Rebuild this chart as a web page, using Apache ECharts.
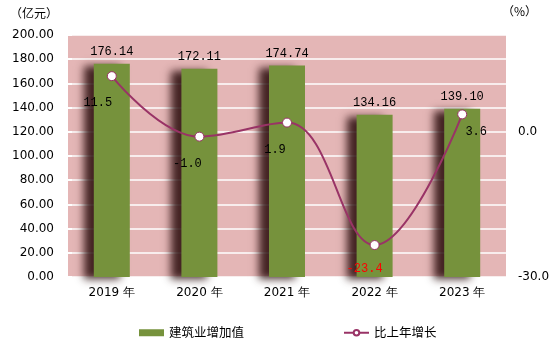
<!DOCTYPE html>
<html><head><meta charset="utf-8">
<script src="https://cdn.jsdelivr.net/npm/echarts@6/dist/echarts.min.js"></script>
<style>html,body{margin:0;padding:0;background:#fff}#c{width:556px;height:362px}</style>
</head><body><div id="c"></div>
<script>
var categories = ['2019 年', '2020 年', '2021 年', '2022 年', '2023 年'];
var valueAdded = [176.14, 172.11, 174.74, 134.16, 139.10];
var growth = [11.5, -1.0, 1.9, -23.4, 3.6];
var leftTicks = [0, 200, 20];
var rightTicks = [-30, 20, 10];

var lineLabelOffsets = [[-14, 8], [-12, 8], [-12, 8], [-10, 5], [14, -2]];
var lineLabelColors = ['#000', '#000', '#000', '#f00', '#000'];

var chart = echarts.init(document.getElementById('c'));
var font = '"DejaVu Sans", sans-serif';
var mono = '"Liberation Mono", monospace';
var cjk = '"Noto Sans CJK SC", sans-serif';
chart.setOption({
  animation: false,
  grid: { left: 68, right: 50, top: 35, bottom: 85, show: true, backgroundColor: '#E4B6B6', borderWidth: 0 },
  legend: {
    bottom: 18, left: 134, itemGap: 99, itemWidth: 25, itemHeight: 7,
    textStyle: { fontSize: 12.5, color: '#000', fontFamily: cjk },
    data: [
      { name: '建筑业增加值', icon: 'rect', itemStyle: { shadowBlur: 0, shadowOffsetX: 0, shadowColor: 'transparent' } },
      { name: '比上年增长' }
    ]
  },
  xAxis: {
    type: 'category', data: categories,
    axisLine: { show: false }, axisTick: { show: false },
    axisLabel: { color: '#000', fontSize: 12, margin: 10, fontFamily: font }
  },
  yAxis: [
    {
      type: 'value', min: leftTicks[0], max: leftTicks[1], interval: leftTicks[2],
      name: '（亿元）', nameLocation: 'end', nameGap: 16,
      nameTextStyle: { color: '#000', fontSize: 12, align: 'right', padding: [0, 10, 0, 0], fontFamily: cjk },
      axisLine: { show: false },
      axisTick: { show: true, inside: true, length: 4, lineStyle: { color: '#fff', width: 2 } },
      axisLabel: { color: '#000', fontSize: 12, margin: 14, fontFamily: font, formatter: function (v) { return v.toFixed(2); } },
      splitLine: { lineStyle: { color: '#fff', width: 1.5 } }
    },
    {
      type: 'value', min: rightTicks[0], max: rightTicks[1], interval: rightTicks[2],
      name: '（%）', nameLocation: 'end', nameGap: 18,
      nameTextStyle: { color: '#000', fontSize: 12, align: 'left', padding: [0, 0, 0, -4], fontFamily: cjk },
      axisLine: { show: false }, axisTick: { show: false },
      splitLine: { show: false },
      axisLabel: { color: '#000', fontSize: 12, margin: 12, fontFamily: font,
        formatter: function (v) { return (v === 0 || v === -30) ? v.toFixed(1) : ''; } }
    }
  ],
  series: [
    {
      name: '建筑业增加值', type: 'bar', data: valueAdded, barWidth: 36, yAxisIndex: 0,
      itemStyle: { color: '#76923C', shadowColor: 'rgba(40,10,10,0.85)', shadowBlur: 8, shadowOffsetX: -10, shadowOffsetY: 2 },
      label: { show: true, position: 'top', distance: 6, color: '#000', fontSize: 12, fontFamily: mono,
        formatter: function (p) { return p.value.toFixed(2); } }
    },
    {
      name: '比上年增长', type: 'line', data: growth.map(function (v, i) {
        return { value: v, label: { offset: lineLabelOffsets[i], color: lineLabelColors[i] } };
      }), yAxisIndex: 1, smooth: 0.4,
      symbol: 'circle', symbolSize: 9,
      lineStyle: { color: '#993366', width: 2 },
      itemStyle: { color: '#fff', borderColor: '#993366', borderWidth: 1 },
      label: { show: true, position: 'bottom', distance: 8, fontSize: 12, fontFamily: mono,
        formatter: function (p) { return p.value.toFixed(1); } }
    }
  ]
});
</script></body></html>
